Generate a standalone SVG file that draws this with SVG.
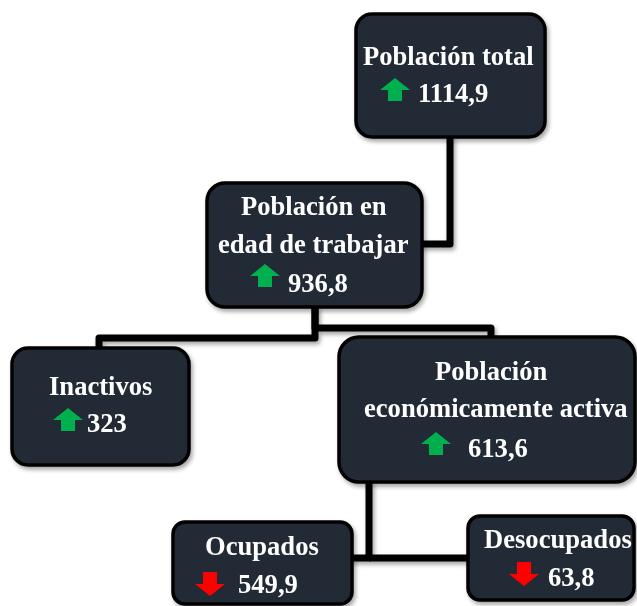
<svg xmlns="http://www.w3.org/2000/svg" width="637" height="606" viewBox="0 0 637 606">
<defs>
<filter id="sh" x="-10%" y="-10%" width="130%" height="130%">
<feDropShadow dx="2" dy="3" stdDeviation="2" flood-color="#000" flood-opacity="0.35"/>
</filter>
<path id="up" d="M0,12 L15,0 L30,12 L22,12 L22,23 L8,23 L8,12 Z"/>
<path id="down" d="M0,12 L15,24 L30,12 L22,12 L22,0 L8,0 L8,12 Z"/>
</defs>
<style>
.box{fill:#232934;stroke:#000;stroke-width:3.5}
.t{font-family:"Liberation Serif","Times New Roman",serif;font-weight:bold;font-size:26.6px;fill:#fff}
.con{fill:none;stroke:#000;stroke-width:7;stroke-linejoin:round}
.g{fill:#00B050}
.r{fill:#FF0000}
</style>
<rect width="637" height="606" fill="#fff"/>
<g id="connectors" filter="url(#sh)">
<path class="con" d="M450,136 L450,244 L420,244"/>
<path class="con" d="M315,306 L315,338 L99,338 L99,350"/>
<path class="con" d="M315,306 L315,328 L491,328 L491,340"/>
<path class="con" d="M369,481 L369,558 L350,558"/>
<path class="con" d="M369,558 L470,558"/>
</g>
<g id="n_total" filter="url(#sh)">
<rect class="box" x="356" y="14" width="189" height="123" rx="16"/>
<text class="t" x="363" y="65">Población total</text>
<use href="#up" class="g" x="380" y="78"/>
<text class="t" x="418" y="102">1114,9</text>
</g>
<g id="n_pet" filter="url(#sh)">
<rect class="box" x="207" y="183" width="215" height="124" rx="18"/>
<text class="t" x="241" y="215">Población en</text>
<text class="t" x="218" y="253">edad de trabajar</text>
<use href="#up" class="g" x="250" y="264"/>
<text class="t" x="288" y="292">936,8</text>
</g>
<g id="n_inactivos" filter="url(#sh)">
<rect class="box" x="12" y="348" width="177" height="117" rx="16"/>
<text class="t" x="49" y="395">Inactivos</text>
<use href="#up" class="g" x="53" y="408"/>
<text class="t" x="87" y="432">323</text>
</g>
<g id="n_pea" filter="url(#sh)">
<rect class="box" x="339" y="337" width="296" height="145" rx="20"/>
<text class="t" x="435" y="380">Población</text>
<text class="t" x="364" y="417">económicamente activa</text>
<use href="#up" class="g" x="421" y="432"/>
<text class="t" x="468" y="457">613,6</text>
</g>
<g id="n_ocupados" filter="url(#sh)">
<rect class="box" x="173" y="522" width="179" height="82" rx="12"/>
<text class="t" x="205" y="555">Ocupados</text>
<use href="#down" class="r" x="195" y="572"/>
<text class="t" x="238" y="593">549,9</text>
</g>
<g id="n_desocupados" filter="url(#sh)">
<rect class="box" x="468" y="516" width="166" height="84" rx="12"/>
<text class="t" x="484" y="548">Desocupados</text>
<use href="#down" class="r" x="509" y="562"/>
<text class="t" x="548" y="586">63,8</text>
</g>
</svg>
